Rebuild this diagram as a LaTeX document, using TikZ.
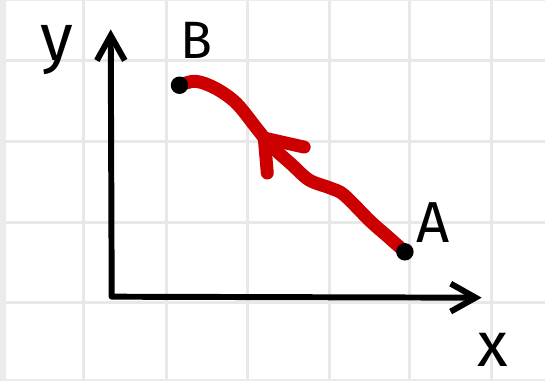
\documentclass[tikz,border=0pt]{standalone}
\usepackage{fontspec}
\setmainfont{Fira Sans}
\usetikzlibrary{arrows.meta, positioning}

\begin{document}
\begin{tikzpicture}[
x=0.02cm, y=-0.02cm,
>={Straight Barb[length=5mm, width=5.6mm]},
gridline/.style={draw=black!9, line width=1.7pt},
axisline/.style={<->, line width=3.4pt, line cap=round, line join=round},
route/.style={draw=red!80!black, line width=7.4pt, line cap=round, line join=round},
dot/.style={circle, fill=black, inner sep=0pt, minimum size=0.35cm},
lbl/.style={inner sep=0pt}
]

\fill[black!8] (0,0) rectangle (546,382);
\fill[white] (6,1) rectangle (546,380);
\foreach \x in {84,167,248,330,411,493}
  \draw[gridline] (\x,1) -- (\x,380);
\foreach \y in {60,141,223,303}
  \draw[gridline] (6,\y) -- (546,\y);

\coordinate (origin) at (112,297);
\coordinate (ytip) at (111,29);
\coordinate (xtip) at (483,298);
\draw[axisline] (ytip) -- (origin) -- (xtip);

\coordinate (a) at (406,252);
\coordinate (b) at (180,85);
\draw[route] plot[smooth, tension=0.55] coordinates {(a) (388,236) (371,221)
  (345,195) (331,188) (310,180) (292,164) (272,146) (258,129) (237,103)
  (216,88) (196,81) (b)};
\coordinate (arrowtip) at (265,138);
\draw[route] (305,147) -- (arrowtip) -- (268,173);

\node[dot] (dotA) at (a) {};
\node[dot] (dotB) at (b) {};

\node[lbl, font=\fontsize{38}{38}\selectfont] (ylbl) at (57,50) {y};
\node[lbl, font=\fontsize{30}{30}\selectfont] (Blbl) at (197,40) {B};
\node[lbl, font=\fontsize{33}{33}\selectfont] (Albl) at (434,223) {A};
\node[lbl, font=\fontsize{36}{36}\selectfont] (xlbl) at (494,350) {x};

\end{tikzpicture}
\end{document}
